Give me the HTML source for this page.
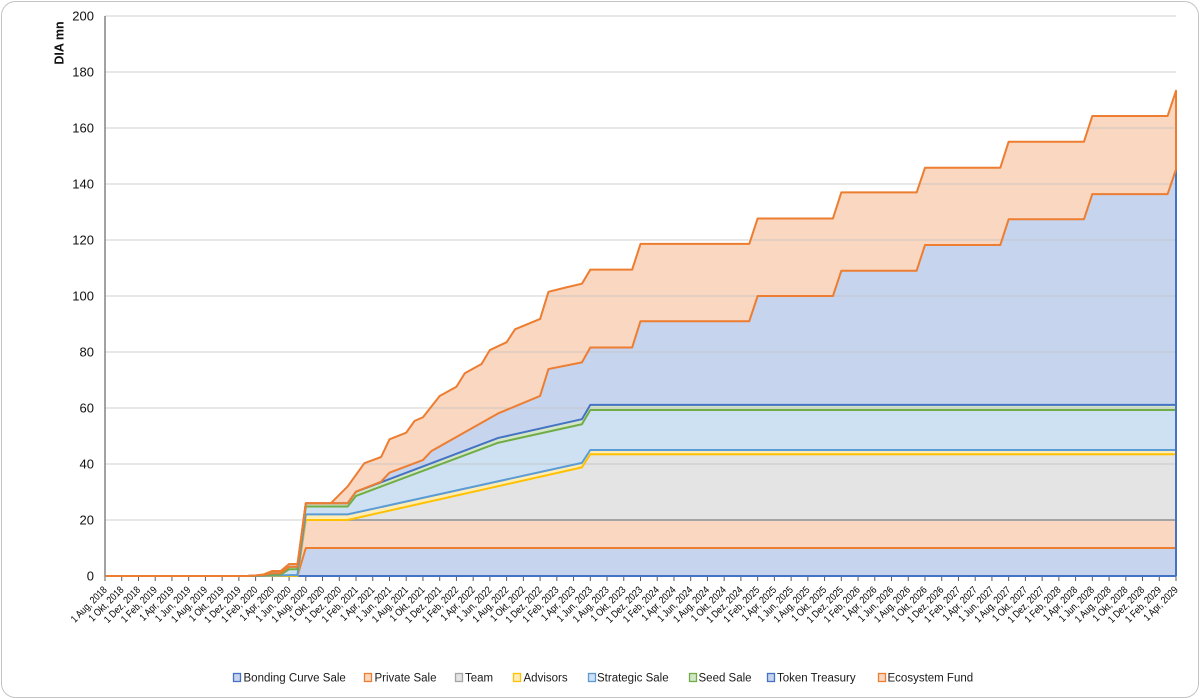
<!DOCTYPE html>
<html><head><meta charset="utf-8"><style>
html,body{margin:0;padding:0;background:#fff;}
svg{display:block;font-family:"Liberation Sans",Arial,sans-serif;}
</style></head><body>
<svg width="1200" height="699" viewBox="0 0 1200 699" xmlns="http://www.w3.org/2000/svg">
<rect x="1.5" y="1.5" width="1197" height="696" rx="14" ry="14" fill="#fff" stroke="#c4c4c4" stroke-width="1"/>

<!-- fills (painter order, top series first) -->
<g stroke="none">
<polygon fill="#f9d7c1" points="105,576 247.24,576 255.61,575.44 263.98,574.32 272.34,570.96 280.71,570.96 289.08,563.96 297.45,563.96 305.81,503.2 330.91,503.2 347.65,486.4 364.38,463.16 381.12,457 389.48,439.36 406.22,432.64 414.59,420.88 422.95,417.24 439.69,395.96 456.42,386.72 464.79,373.28 481.52,364.04 489.89,350.04 506.63,342.2 515,329.32 540.1,318.96 548.46,291.8 565.2,287.6 581.93,283.68 590.3,269.68 632.13,269.68 640.5,243.92 749.27,243.92 757.64,218.44 832.95,218.44 841.31,192.4 916.62,192.4 924.99,167.76 1000.29,167.76 1008.66,141.72 1083.96,141.72 1092.33,115.96 1167.63,115.96 1176,90.76 1176,576"/>
<polygon fill="#c7d4ee" points="105,576 247.24,576 255.61,575.44 263.98,574.88 272.34,573.2 280.71,573.2 289.08,566.76 297.45,566.76 305.81,503.2 347.65,503.2 356.02,491.72 381.12,481.64 389.48,472.68 422.95,460.08 431.32,451.12 498.26,413.32 540.1,395.96 548.46,369.08 581.93,362.36 590.3,347.52 632.13,347.52 640.5,321.2 749.27,321.2 757.64,296 832.95,296 841.31,270.8 916.62,270.8 924.99,245.04 1000.29,245.04 1008.66,219.28 1083.96,219.28 1092.33,194.08 1167.63,194.08 1176,169.44 1176,576"/>
<polygon fill="#d4e6c8" points="105,576 247.24,576 255.61,575.44 263.98,574.88 272.34,573.2 280.71,573.2 289.08,566.76 297.45,566.76 305.81,503.2 347.65,503.2 356.02,491.72 498.26,437.96 581.93,419.2 590.3,404.92 1176,404.92 1176,576"/>
<polygon fill="#cee1f2" points="105,576 247.24,576 255.61,575.72 263.98,575.16 272.34,574.6 280.71,574.6 289.08,569.28 297.45,569.28 305.81,506.56 347.65,506.56 356.02,495.92 498.26,442.72 581.93,424.24 590.3,409.96 1176,409.96 1176,576"/>
<polygon fill="#ffedb5" points="105,576 255.61,576 263.98,575.72 272.34,575.44 280.71,575.44 289.08,575.16 297.45,575.16 305.81,514.4 347.65,514.4 581.93,462.88 590.3,450 1176,450 1176,576"/>
<polygon fill="#e4e4e4" points="105,576 297.45,576 305.81,520 347.65,520 581.93,467.36 590.3,454.2 1176,454.2 1176,576"/>
<polygon fill="#f9d7c1" points="105,576 297.45,576 305.81,520 1176,520 1176,576"/>
<polygon fill="#c7d4ee" points="105,576 297.45,576 305.81,548 1176,548 1176,576"/>
</g>

<!-- gridlines -->
<g stroke="#bdbdbd" stroke-opacity="0.55" stroke-width="1.3">
<line x1="105" y1="16" x2="1176" y2="16"/>
<line x1="105" y1="72" x2="1176" y2="72"/>
<line x1="105" y1="128" x2="1176" y2="128"/>
<line x1="105" y1="184" x2="1176" y2="184"/>
<line x1="105" y1="240" x2="1176" y2="240"/>
<line x1="105" y1="296" x2="1176" y2="296"/>
<line x1="105" y1="352" x2="1176" y2="352"/>
<line x1="105" y1="408" x2="1176" y2="408"/>
<line x1="105" y1="464" x2="1176" y2="464"/>
<line x1="105" y1="520" x2="1176" y2="520"/>
</g>

<!-- x axis line + ticks -->
<line x1="105" y1="576" x2="1176" y2="576" stroke="#8a8a8a" stroke-width="1.5"/>
<g stroke="#5a5a5a" stroke-width="1">
<line x1="105" y1="576" x2="105" y2="581"/><line x1="121.73" y1="576" x2="121.73" y2="581"/><line x1="138.47" y1="576" x2="138.47" y2="581"/><line x1="155.2" y1="576" x2="155.2" y2="581"/><line x1="171.94" y1="576" x2="171.94" y2="581"/><line x1="188.67" y1="576" x2="188.67" y2="581"/><line x1="205.41" y1="576" x2="205.41" y2="581"/><line x1="222.14" y1="576" x2="222.14" y2="581"/><line x1="238.88" y1="576" x2="238.88" y2="581"/><line x1="255.61" y1="576" x2="255.61" y2="581"/><line x1="272.34" y1="576" x2="272.34" y2="581"/><line x1="289.08" y1="576" x2="289.08" y2="581"/><line x1="305.81" y1="576" x2="305.81" y2="581"/><line x1="322.55" y1="576" x2="322.55" y2="581"/><line x1="339.28" y1="576" x2="339.28" y2="581"/><line x1="356.02" y1="576" x2="356.02" y2="581"/><line x1="372.75" y1="576" x2="372.75" y2="581"/><line x1="389.48" y1="576" x2="389.48" y2="581"/><line x1="406.22" y1="576" x2="406.22" y2="581"/><line x1="422.95" y1="576" x2="422.95" y2="581"/><line x1="439.69" y1="576" x2="439.69" y2="581"/><line x1="456.42" y1="576" x2="456.42" y2="581"/><line x1="473.16" y1="576" x2="473.16" y2="581"/><line x1="489.89" y1="576" x2="489.89" y2="581"/><line x1="506.63" y1="576" x2="506.63" y2="581"/><line x1="523.36" y1="576" x2="523.36" y2="581"/><line x1="540.09" y1="576" x2="540.09" y2="581"/><line x1="556.83" y1="576" x2="556.83" y2="581"/><line x1="573.56" y1="576" x2="573.56" y2="581"/><line x1="590.3" y1="576" x2="590.3" y2="581"/><line x1="607.03" y1="576" x2="607.03" y2="581"/><line x1="623.77" y1="576" x2="623.77" y2="581"/><line x1="640.5" y1="576" x2="640.5" y2="581"/><line x1="657.23" y1="576" x2="657.23" y2="581"/><line x1="673.97" y1="576" x2="673.97" y2="581"/><line x1="690.7" y1="576" x2="690.7" y2="581"/><line x1="707.44" y1="576" x2="707.44" y2="581"/><line x1="724.17" y1="576" x2="724.17" y2="581"/><line x1="740.91" y1="576" x2="740.91" y2="581"/><line x1="757.64" y1="576" x2="757.64" y2="581"/><line x1="774.38" y1="576" x2="774.38" y2="581"/><line x1="791.11" y1="576" x2="791.11" y2="581"/><line x1="807.84" y1="576" x2="807.84" y2="581"/><line x1="824.58" y1="576" x2="824.58" y2="581"/><line x1="841.31" y1="576" x2="841.31" y2="581"/><line x1="858.05" y1="576" x2="858.05" y2="581"/><line x1="874.78" y1="576" x2="874.78" y2="581"/><line x1="891.52" y1="576" x2="891.52" y2="581"/><line x1="908.25" y1="576" x2="908.25" y2="581"/><line x1="924.98" y1="576" x2="924.98" y2="581"/><line x1="941.72" y1="576" x2="941.72" y2="581"/><line x1="958.45" y1="576" x2="958.45" y2="581"/><line x1="975.19" y1="576" x2="975.19" y2="581"/><line x1="991.92" y1="576" x2="991.92" y2="581"/><line x1="1008.66" y1="576" x2="1008.66" y2="581"/><line x1="1025.39" y1="576" x2="1025.39" y2="581"/><line x1="1042.13" y1="576" x2="1042.13" y2="581"/><line x1="1058.86" y1="576" x2="1058.86" y2="581"/><line x1="1075.59" y1="576" x2="1075.59" y2="581"/><line x1="1092.33" y1="576" x2="1092.33" y2="581"/><line x1="1109.06" y1="576" x2="1109.06" y2="581"/><line x1="1125.8" y1="576" x2="1125.8" y2="581"/><line x1="1142.53" y1="576" x2="1142.53" y2="581"/><line x1="1159.27" y1="576" x2="1159.27" y2="581"/><line x1="1176" y1="576" x2="1176" y2="581"/>
</g>

<!-- series border lines -->
<g fill="none" stroke-width="2" stroke-linejoin="round" stroke-linecap="butt">
<line x1="297.45" y1="576" x2="1176" y2="576" stroke="#4472c4"/>
<polyline stroke="#ed7d31" points="105,576 297.45,576 305.81,548 1176,548"/>
<polyline stroke="#a5a5a5" points="105,576 297.45,576 305.81,520 1176,520"/>
<polyline stroke="#ffc000" points="105,576 297.45,576 305.81,520 347.65,520 581.93,467.36 590.3,454.2 1176,454.2"/>
<polyline stroke="#5b9bd5" points="105,576 255.61,576 263.98,575.72 272.34,575.44 280.71,575.44 289.08,575.16 297.45,575.16 305.81,514.4 347.65,514.4 581.93,462.88 590.3,450 1176,450"/>
<polyline stroke="#70ad47" points="105,576 247.24,576 255.61,575.72 263.98,575.16 272.34,574.6 280.71,574.6 289.08,569.28 297.45,569.28 305.81,506.56 347.65,506.56 356.02,495.92 498.26,442.72 581.93,424.24 590.3,409.96 1176,409.96"/>
<polyline stroke="#4472c4" points="105,576 247.24,576 255.61,575.44 263.98,574.88 272.34,573.2 280.71,573.2 289.08,566.76 297.45,566.76 305.81,503.2 347.65,503.2 356.02,491.72 498.26,437.96 581.93,419.2 590.3,404.92 1176,404.92"/>
<line x1="1176" y1="576" x2="1176" y2="169.44" stroke="#4472c4"/>
<polyline stroke="#ed7d31" points="105,576 247.24,576 255.61,575.44 263.98,574.88 272.34,573.2 280.71,573.2 289.08,566.76 297.45,566.76 305.81,503.2 347.65,503.2 356.02,491.72 381.12,481.64 389.48,472.68 422.95,460.08 431.32,451.12 498.26,413.32 540.1,395.96 548.46,369.08 581.93,362.36 590.3,347.52 632.13,347.52 640.5,321.2 749.27,321.2 757.64,296 832.95,296 841.31,270.8 916.62,270.8 924.99,245.04 1000.29,245.04 1008.66,219.28 1083.96,219.28 1092.33,194.08 1167.63,194.08 1176,169.44"/>
<polyline stroke="#ed7d31" points="105,576 247.24,576 255.61,575.44 263.98,574.32 272.34,570.96 280.71,570.96 289.08,563.96 297.45,563.96 305.81,503.2 330.91,503.2 347.65,486.4 364.38,463.16 381.12,457 389.48,439.36 406.22,432.64 414.59,420.88 422.95,417.24 439.69,395.96 456.42,386.72 464.79,373.28 481.52,364.04 489.89,350.04 506.63,342.2 515,329.32 540.1,318.96 548.46,291.8 565.2,287.6 581.93,283.68 590.3,269.68 632.13,269.68 640.5,243.92 749.27,243.92 757.64,218.44 832.95,218.44 841.31,192.4 916.62,192.4 924.99,167.76 1000.29,167.76 1008.66,141.72 1083.96,141.72 1092.33,115.96 1167.63,115.96 1176,90.76 1176,169.44"/>
</g>

<!-- y axis -->
<line x1="105" y1="16" x2="105" y2="576.5" stroke="#8a8a8a" stroke-width="1.6"/>

<!-- y labels -->
<g font-size="13" fill="#111" text-anchor="end">
<text x="94" y="20.7">200</text>
<text x="94" y="76.7">180</text>
<text x="94" y="132.7">160</text>
<text x="94" y="188.7">140</text>
<text x="94" y="244.7">120</text>
<text x="94" y="300.7">100</text>
<text x="94" y="356.7">80</text>
<text x="94" y="412.7">60</text>
<text x="94" y="468.7">40</text>
<text x="94" y="524.7">20</text>
<text x="94" y="580.7">0</text>
</g>
<text transform="translate(63.5,43) rotate(-90)" font-size="12.5" font-weight="bold" fill="#111" text-anchor="middle">DIA mn</text>

<!-- x labels -->
<g font-size="10.2" fill="#000" text-anchor="end">
<text transform="translate(107.5,590.5) rotate(-45) scale(0.85,1)">1 Aug, 2018</text>
<text transform="translate(124.23,590.5) rotate(-45) scale(0.85,1)">1 Okt, 2018</text>
<text transform="translate(140.97,590.5) rotate(-45) scale(0.85,1)">1 Dez, 2018</text>
<text transform="translate(157.7,590.5) rotate(-45) scale(0.85,1)">1 Feb, 2019</text>
<text transform="translate(174.44,590.5) rotate(-45) scale(0.85,1)">1 Apr, 2019</text>
<text transform="translate(191.17,590.5) rotate(-45) scale(0.85,1)">1 Jun, 2019</text>
<text transform="translate(207.91,590.5) rotate(-45) scale(0.85,1)">1 Aug, 2019</text>
<text transform="translate(224.64,590.5) rotate(-45) scale(0.85,1)">1 Okt, 2019</text>
<text transform="translate(241.38,590.5) rotate(-45) scale(0.85,1)">1 Dez, 2019</text>
<text transform="translate(258.11,590.5) rotate(-45) scale(0.85,1)">1 Feb, 2020</text>
<text transform="translate(274.84,590.5) rotate(-45) scale(0.85,1)">1 Apr, 2020</text>
<text transform="translate(291.58,590.5) rotate(-45) scale(0.85,1)">1 Jun, 2020</text>
<text transform="translate(308.31,590.5) rotate(-45) scale(0.85,1)">1 Aug, 2020</text>
<text transform="translate(325.05,590.5) rotate(-45) scale(0.85,1)">1 Okt, 2020</text>
<text transform="translate(341.78,590.5) rotate(-45) scale(0.85,1)">1 Dez, 2020</text>
<text transform="translate(358.52,590.5) rotate(-45) scale(0.85,1)">1 Feb, 2021</text>
<text transform="translate(375.25,590.5) rotate(-45) scale(0.85,1)">1 Apr, 2021</text>
<text transform="translate(391.98,590.5) rotate(-45) scale(0.85,1)">1 Jun, 2021</text>
<text transform="translate(408.72,590.5) rotate(-45) scale(0.85,1)">1 Aug, 2021</text>
<text transform="translate(425.45,590.5) rotate(-45) scale(0.85,1)">1 Okt, 2021</text>
<text transform="translate(442.19,590.5) rotate(-45) scale(0.85,1)">1 Dez, 2021</text>
<text transform="translate(458.92,590.5) rotate(-45) scale(0.85,1)">1 Feb, 2022</text>
<text transform="translate(475.66,590.5) rotate(-45) scale(0.85,1)">1 Apr, 2022</text>
<text transform="translate(492.39,590.5) rotate(-45) scale(0.85,1)">1 Jun, 2022</text>
<text transform="translate(509.13,590.5) rotate(-45) scale(0.85,1)">1 Aug, 2022</text>
<text transform="translate(525.86,590.5) rotate(-45) scale(0.85,1)">1 Okt, 2022</text>
<text transform="translate(542.59,590.5) rotate(-45) scale(0.85,1)">1 Dez, 2022</text>
<text transform="translate(559.33,590.5) rotate(-45) scale(0.85,1)">1 Feb, 2023</text>
<text transform="translate(576.06,590.5) rotate(-45) scale(0.85,1)">1 Apr, 2023</text>
<text transform="translate(592.8,590.5) rotate(-45) scale(0.85,1)">1 Jun, 2023</text>
<text transform="translate(609.53,590.5) rotate(-45) scale(0.85,1)">1 Aug, 2023</text>
<text transform="translate(626.27,590.5) rotate(-45) scale(0.85,1)">1 Okt, 2023</text>
<text transform="translate(643,590.5) rotate(-45) scale(0.85,1)">1 Dez, 2023</text>
<text transform="translate(659.73,590.5) rotate(-45) scale(0.85,1)">1 Feb, 2024</text>
<text transform="translate(676.47,590.5) rotate(-45) scale(0.85,1)">1 Apr, 2024</text>
<text transform="translate(693.2,590.5) rotate(-45) scale(0.85,1)">1 Jun, 2024</text>
<text transform="translate(709.94,590.5) rotate(-45) scale(0.85,1)">1 Aug, 2024</text>
<text transform="translate(726.67,590.5) rotate(-45) scale(0.85,1)">1 Okt, 2024</text>
<text transform="translate(743.41,590.5) rotate(-45) scale(0.85,1)">1 Dez, 2024</text>
<text transform="translate(760.14,590.5) rotate(-45) scale(0.85,1)">1 Feb, 2025</text>
<text transform="translate(776.88,590.5) rotate(-45) scale(0.85,1)">1 Apr, 2025</text>
<text transform="translate(793.61,590.5) rotate(-45) scale(0.85,1)">1 Jun, 2025</text>
<text transform="translate(810.34,590.5) rotate(-45) scale(0.85,1)">1 Aug, 2025</text>
<text transform="translate(827.08,590.5) rotate(-45) scale(0.85,1)">1 Okt, 2025</text>
<text transform="translate(843.81,590.5) rotate(-45) scale(0.85,1)">1 Dez, 2025</text>
<text transform="translate(860.55,590.5) rotate(-45) scale(0.85,1)">1 Feb, 2026</text>
<text transform="translate(877.28,590.5) rotate(-45) scale(0.85,1)">1 Apr, 2026</text>
<text transform="translate(894.02,590.5) rotate(-45) scale(0.85,1)">1 Jun, 2026</text>
<text transform="translate(910.75,590.5) rotate(-45) scale(0.85,1)">1 Aug, 2026</text>
<text transform="translate(927.48,590.5) rotate(-45) scale(0.85,1)">1 Okt, 2026</text>
<text transform="translate(944.22,590.5) rotate(-45) scale(0.85,1)">1 Dez, 2026</text>
<text transform="translate(960.95,590.5) rotate(-45) scale(0.85,1)">1 Feb, 2027</text>
<text transform="translate(977.69,590.5) rotate(-45) scale(0.85,1)">1 Apr, 2027</text>
<text transform="translate(994.42,590.5) rotate(-45) scale(0.85,1)">1 Jun, 2027</text>
<text transform="translate(1011.16,590.5) rotate(-45) scale(0.85,1)">1 Aug, 2027</text>
<text transform="translate(1027.89,590.5) rotate(-45) scale(0.85,1)">1 Okt, 2027</text>
<text transform="translate(1044.63,590.5) rotate(-45) scale(0.85,1)">1 Dez, 2027</text>
<text transform="translate(1061.36,590.5) rotate(-45) scale(0.85,1)">1 Feb, 2028</text>
<text transform="translate(1078.09,590.5) rotate(-45) scale(0.85,1)">1 Apr, 2028</text>
<text transform="translate(1094.83,590.5) rotate(-45) scale(0.85,1)">1 Jun, 2028</text>
<text transform="translate(1111.56,590.5) rotate(-45) scale(0.85,1)">1 Aug, 2028</text>
<text transform="translate(1128.3,590.5) rotate(-45) scale(0.85,1)">1 Okt, 2028</text>
<text transform="translate(1145.03,590.5) rotate(-45) scale(0.85,1)">1 Dez, 2028</text>
<text transform="translate(1161.77,590.5) rotate(-45) scale(0.85,1)">1 Feb, 2029</text>
<text transform="translate(1178.5,590.5) rotate(-45) scale(0.85,1)">1 Apr, 2029</text>
</g>

<!-- legend -->
<g stroke-width="1.3">
<rect x="233.5" y="673.5" width="7" height="8" fill="#c7d4ee" stroke="#4472c4"/>
<rect x="364.5" y="673.5" width="7" height="8" fill="#f9d7c1" stroke="#ed7d31"/>
<rect x="455.5" y="673.5" width="7" height="8" fill="#e4e4e4" stroke="#a5a5a5"/>
<rect x="513.5" y="673.5" width="7" height="8" fill="#ffedb5" stroke="#ffc000"/>
<rect x="588.5" y="673.5" width="7" height="8" fill="#cee1f2" stroke="#5b9bd5"/>
<rect x="689.5" y="673.5" width="7" height="8" fill="#d4e6c8" stroke="#70ad47"/>
<rect x="767.5" y="673.5" width="7" height="8" fill="#c7d4ee" stroke="#4472c4"/>
<rect x="878.5" y="673.5" width="7" height="8" fill="#f9d7c1" stroke="#ed7d31"/>
</g>
<g font-size="11.5" fill="#1a1a1a">
<text x="243.5" y="681.5">Bonding Curve Sale</text>
<text x="374.5" y="681.5">Private Sale</text>
<text x="465" y="681.5">Team</text>
<text x="523.5" y="681.5">Advisors</text>
<text x="597" y="681.5">Strategic Sale</text>
<text x="698.5" y="681.5">Seed Sale</text>
<text x="777" y="681.5">Token Treasury</text>
<text x="887.5" y="681.5">Ecosystem Fund</text>
</g>
</svg>
</body></html>
